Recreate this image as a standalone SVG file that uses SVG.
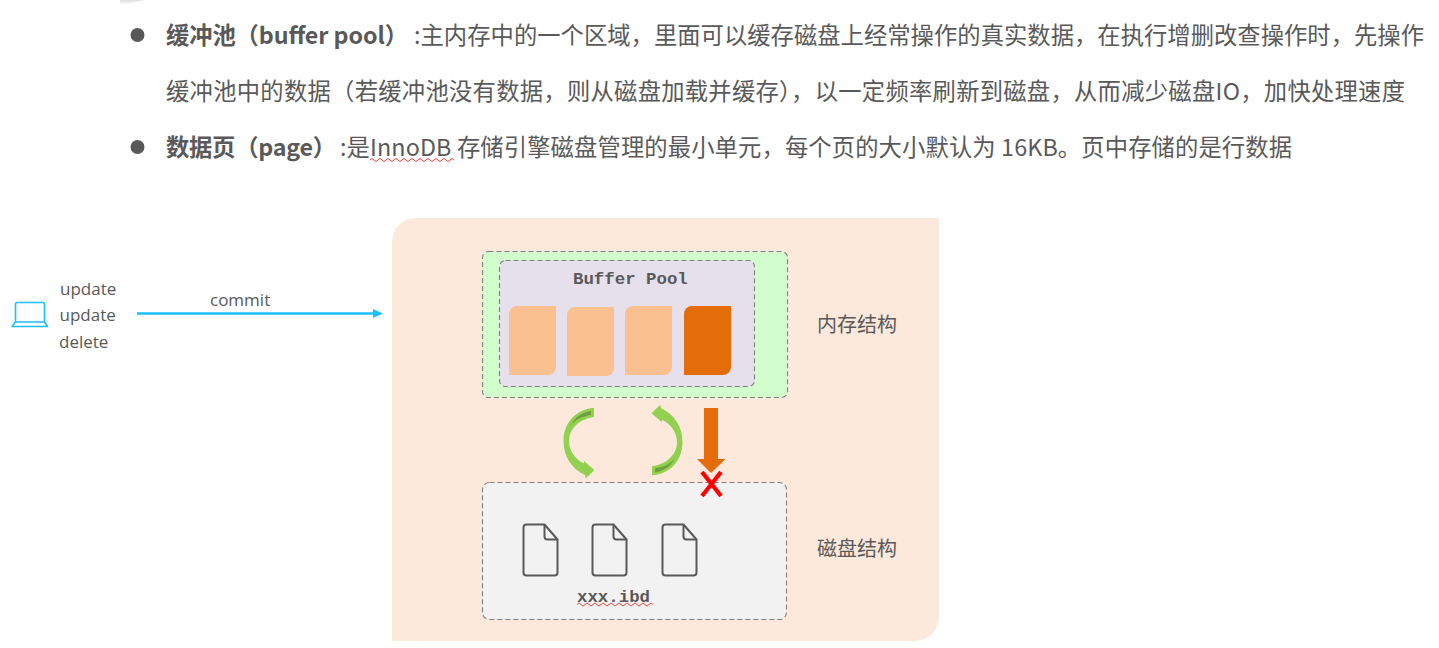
<svg xmlns="http://www.w3.org/2000/svg" width="1439" height="648" viewBox="0 0 1439 648">
<style>
.t{font-family:"Noto Sans CJK SC","Open Sans",sans-serif;font-size:23.3px;fill:#595959}
.b{font-weight:700}
.l{font-family:"Open Sans","Noto Sans",sans-serif;font-size:17px;fill:#595959}
.c{font-family:"Noto Sans CJK SC",sans-serif;font-size:20px;fill:#595959}
.m{font-family:"Liberation Mono",monospace;font-size:17.4px;font-weight:700;fill:#595959}
.box{stroke:#7f7f7f;stroke-width:1.1;stroke-dasharray:5 3}
.pg{fill:#fac090}
.pg4{fill:#e46c0a}
.file{fill:none;stroke:#595959;stroke-width:2;stroke-linejoin:round}
.sq{fill:none;stroke:#ee4444;stroke-width:1}
</style>
<defs>
<linearGradient id="sh" x1="0" y1="0" x2="0" y2="1"><stop offset="0" stop-color="#e0e0e0"/><stop offset="1" stop-color="#ffffff"/></linearGradient>
<g id="page"><path d="M8 0H47V61a8 8 0 0 1-8 8H0V8a8 8 0 0 1 8-8Z"/></g>
<g id="doc"><path class="file" d="M3 0H21L34 15V48a3 3 0 0 1-3 3H3a3 3 0 0 1-3-3V3a3 3 0 0 1 3-3Z"/><path class="file" d="M21 0V12a3 3 0 0 0 3 3H34"/></g>
<g id="curve"><path fill="#92d050" d="M594 408C575 409 563.500 424 563.500 441C563.500 457 572 469 585 475L585.700 478.500L594.500 470L584 461L584 463.500C575 459 569 451 569 441C569 429 579 419 594 417Z"/><path fill="#6f9f3e" d="M591 411V415C583 416 576 419 571 425C575 417 583 412 591 411Z"/></g>
</defs>
<rect id="bg" width="1439" height="648" fill="#ffffff"/>
<path d="M120 0H145Q132 3 120 5Z" fill="url(#sh)"/>
<g id="text">
<circle cx="137.500" cy="35" r="7" fill="#595959"/>
<circle cx="137.500" cy="147" r="7" fill="#595959"/>
<text class="t b" x="166" y="44" textLength="242">缓冲池（buffer pool）</text>
<text class="t" x="414" y="44" textLength="1010">:主内存中的一个区域，里面可以缓存磁盘上经常操作的真实数据，在执行增删改查操作时，先操作</text>
<text class="t" x="166" y="100" textLength="1239">缓冲池中的数据（若缓冲池没有数据，则从磁盘加载并缓存），以一定频率刷新到磁盘，从而减少磁盘IO，加快处理速度</text>
<text class="t b" x="166" y="156" textLength="170">数据页（page）</text>
<text class="t" x="340" y="156" textLength="952">:是InnoDB 存储引擎磁盘管理的最小单元，每个页的大小默认为 16KB。页中存储的是行数据</text>
<path class="sq" d="M370 160q2-3 4 0t4 0 4 0 4 0 4 0 4 0 4 0 4 0 4 0 4 0 4 0 4 0 4 0 4 0 4 0 4 0 4 0 4 0 4 0 4 0 4 0"/>
</g>
<path id="panel" d="M416 218H939V617a24 24 0 0 1-24 24H392V242a24 24 0 0 1 24-24Z" fill="#fde9db"/>
<g id="client">
<path d="M17 302.500H43a1.500 1.500 0 0 1 1.500 1.500V322H15.500V304a1.500 1.500 0 0 1 1.500-1.500ZM15.500 322L12 326.500H47.500L44.500 322" fill="none" stroke="#1ac0ff" stroke-width="1.600" stroke-linejoin="round"/>
<text class="l" x="60" y="295">update</text>
<text class="l" x="59.500" y="321">update</text>
<text class="l" x="59" y="348">delete</text>
</g>
<g id="connectors">
<line x1="137" y1="313.500" x2="375" y2="313.500" stroke="#1ac0ff" stroke-width="2.600"/>
<path d="M373 309L383 313.500L373 318Z" fill="#1ac0ff"/>
<text class="l" x="210" y="306">commit</text>
<use id="flush-left" href="#curve"/>
<use id="flush-right" href="#curve" transform="translate(1246 883.300) rotate(180)"/>
<path id="blocked-flush" d="M704 408H718V459H725.500L711 473L697 459H704Z" fill="#e46c0a"/>
</g>
<g id="memory">
<rect class="box" x="482.500" y="251.500" width="305" height="146" rx="6" fill="#d2fdcd"/>
<rect class="box" x="499.500" y="260.500" width="255" height="126" rx="6" fill="#e6e0ec"/>
<text class="m" x="573" y="284">Buffer Pool</text>
<use href="#page" class="pg" x="509" y="306"/>
<use href="#page" class="pg" x="567" y="307"/>
<use href="#page" class="pg" x="625" y="306"/>
<use href="#page" class="pg4" x="684" y="306"/>
<text class="c" x="817" y="332">内存结构</text>
</g>
<g id="disk">
<rect class="box" x="482.500" y="482.500" width="304" height="137" rx="7" fill="#f2f2f2"/>
<use href="#doc" x="523.500" y="524.500"/>
<use href="#doc" x="592.500" y="524.500"/>
<use href="#doc" x="662.500" y="524.500"/>
<text class="m" x="577" y="602">xxx.ibd</text>
<path class="sq" d="M577 604.500q2-3 4 0t4 0 4 0 4 0 4 0 4 0 4 0 4 0 4 0 4 0 4 0 4 0 4 0 4 0 4 0 4 0 4 0 4 0 4 0"/>
<text class="c" x="817" y="556">磁盘结构</text>
</g>
<path id="cross" d="M702 472L721 496M721 472L702 496" stroke="#ff0000" stroke-width="4.200" fill="none"/>
</svg>
